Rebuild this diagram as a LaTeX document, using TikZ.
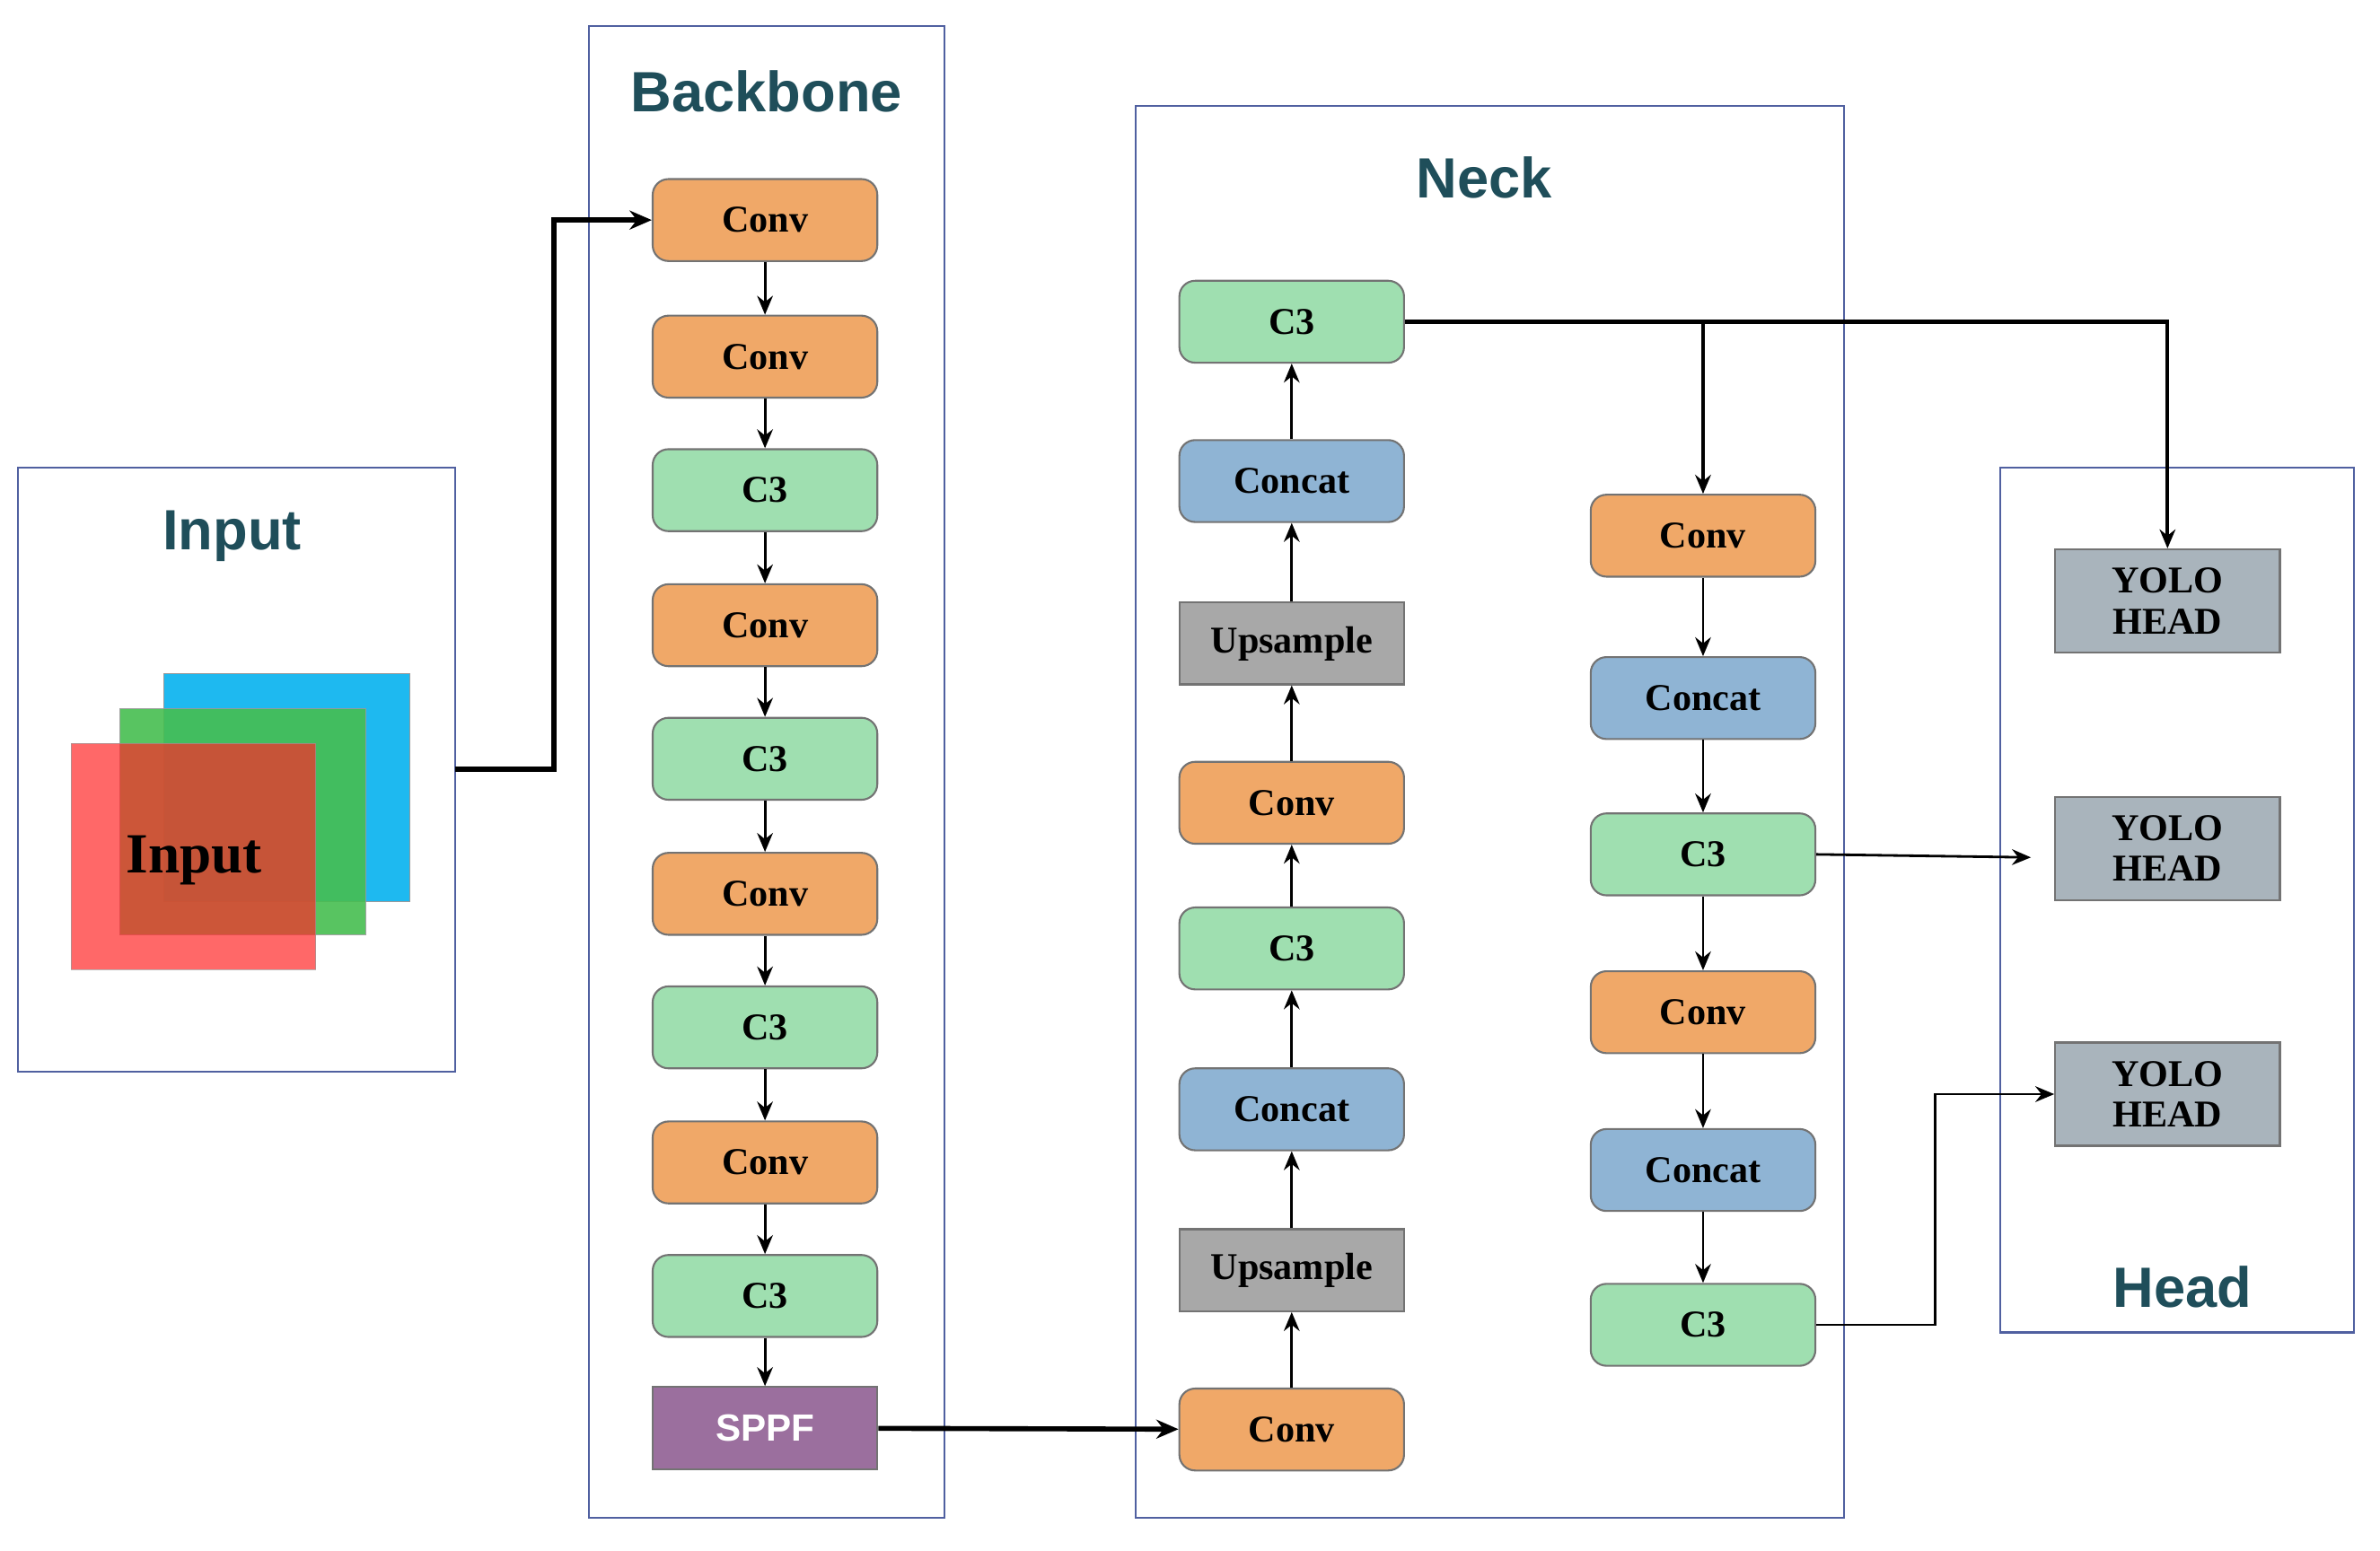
\documentclass[tikz,border=0pt]{standalone}
\usepackage{fontspec}
\setmainfont{Liberation Serif}
\newfontfamily\ttl{Liberation Sans}
\usetikzlibrary{arrows.meta}
\definecolor{cOr}{HTML}{F0A868}
\definecolor{cGr}{HTML}{9FDFB0}
\definecolor{cBl}{HTML}{8FB4D4}
\definecolor{cGy}{HTML}{A8A8A8}
\definecolor{cYo}{HTML}{A9B4BC}
\definecolor{cPu}{HTML}{9B6F9E}
\definecolor{cTt}{HTML}{1F4E5A}
\definecolor{cFr}{HTML}{5060A0}
\begin{document}
\begin{tikzpicture}[x=0.016907cm,y=-0.016907cm,
 blk/.style={draw=black!55,line width=0.6pt,rounded corners=5pt,minimum width=148*0.016907cm,minimum height=54*0.016907cm,font=\fontsize{12}{14}\selectfont\bfseries,inner sep=0pt},
 conv/.style={blk,fill=cOr}, cthree/.style={blk,fill=cGr}, cat/.style={blk,fill=cBl},
 up/.style={blk,fill=cGy,rounded corners=0pt},
 yolo/.style={blk,fill=cYo,rounded corners=0pt,minimum height=68*0.016907cm,align=center,font=\fontsize{12}{13}\selectfont\bfseries},
 frame/.style={draw=cFr,line width=0.6pt},
 title/.style={font=\ttl\fontsize{18}{20}\selectfont\bfseries,text=cTt},
 ar/.style={-{Stealth[length=6pt,width=5pt]},line width=0.8pt},
 tk/.style={-{Stealth[length=7pt,width=6pt]},line width=1.6pt}]
\useasboundingbox (0,0) rectangle (1568,1022);
% frames
\draw[frame] (12,308) rectangle (300,706);
\draw[frame] (388,17) rectangle (622,1000);
\draw[frame] (748,70) rectangle (1215,1000);
\draw[frame] (1318,308) rectangle (1551,878);
\node[title] at (153,353) {Input};
\node[title] at (505,60) {Backbone};
\node[title] at (978,117) {Neck};
\node[title] at (1438,848) {Head};
% input squares
\fill[draw=black!40,fill={rgb,255:red,30;green,185;blue,240}] (108,444) rectangle (270,594);
\fill[draw=black!40,fill={rgb,255:red,70;green,190;blue,80},opacity=0.9] (79,467) rectangle (241,616);
\fill[draw=black!40,fill={rgb,255:red,255;green,40;blue,40},opacity=0.7] (47,490) rectangle (208,639);
\node[font=\fontsize{18}{20}\selectfont\bfseries] (inp) at (128,567) {Input};
\coordinate (inR) at (300,507);
% backbone
\node[conv] (b1) at (504,145) {Conv};
\node[conv] (b2) at (504,235) {Conv};
\node[cthree] (b3) at (504,323) {C3};
\node[conv] (b4) at (504,412) {Conv};
\node[cthree] (b5) at (504,500) {C3};
\node[conv] (b6) at (504,589) {Conv};
\node[cthree] (b7) at (504,677) {C3};
\node[conv] (b8) at (504,766) {Conv};
\node[cthree] (b9) at (504,854) {C3};
\node[blk,fill=cPu,rounded corners=0pt,text=white,font=\ttl\fontsize{12}{14}\selectfont\bfseries] (sp) at (504,941) {SPPF};
\foreach \a/\b in {b1/b2,b2/b3,b3/b4,b4/b5,b5/b6,b6/b7,b7/b8,b8/b9,b9/sp} \draw[ar] (\a) -- (\b);
\draw[tk] (inR) -- (365,507) |- (b1.west);
% neck left
\node[cthree] (n1) at (851,212) {C3};
\node[cat] (n2) at (851,317) {Concat};
\node[up] (n3) at (851,424) {Upsample};
\node[conv] (n4) at (851,529) {Conv};
\node[cthree] (n5) at (851,625) {C3};
\node[cat] (n6) at (851,731) {Concat};
\node[up] (n7) at (851,837) {Upsample};
\node[conv] (n8) at (851,942) {Conv};
\foreach \a/\b in {n8/n7,n7/n6,n6/n5,n5/n4,n4/n3,n3/n2,n2/n1} \draw[ar] (\a) -- (\b);
\draw[tk] (sp) -- (n8);
% neck right
\node[conv] (r1) at (1122,353) {Conv};
\node[cat] (r2) at (1122,460) {Concat};
\node[cthree] (r3) at (1122,563) {C3};
\node[conv] (r4) at (1122,667) {Conv};
\node[cat] (r5) at (1122,771) {Concat};
\node[cthree] (r6) at (1122,873) {C3};
\foreach \a/\b in {r1/r2,r2/r3,r3/r4,r4/r5,r5/r6} \draw[ar] (\a) -- (\b);
% head
\node[yolo] (h1) at (1428,396) {YOLO\\HEAD};
\node[yolo] (h2) at (1428,559) {YOLO\\HEAD};
\node[yolo] (h3) at (1428,721) {YOLO\\HEAD};
\coordinate (br) at (1122,212);
\coordinate (h2in) at (1338,565);
\draw[ar,line width=1.2pt] (n1.east) -| (h1.north);
\draw[ar,line width=1.2pt] (br) -- (r1.north);
\draw[ar] (r3.east) -- (h2in);
\draw[ar] (r6.east) -- (1275,873) |- (h3.west);
\end{tikzpicture}
\end{document}
